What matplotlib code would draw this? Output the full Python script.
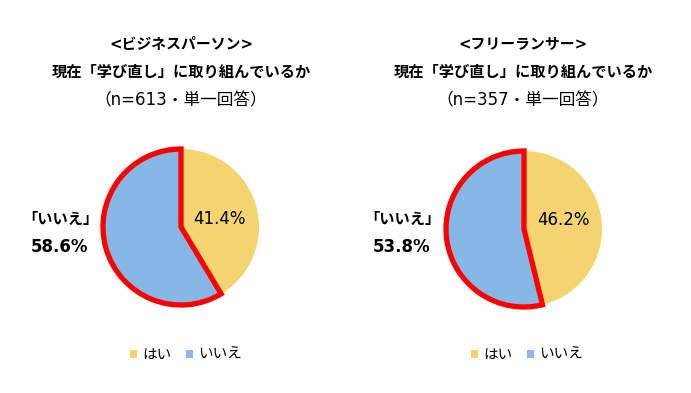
import matplotlib
matplotlib.use("Agg")
import matplotlib.pyplot as plt
from matplotlib.patches import Patch

plt.rcParams['font.family'] = ['Noto Sans CJK JP', 'DejaVu Sans']
LATIN = ['DejaVu Sans', 'Noto Sans CJK JP']

W, H = 691, 393

categories = ["はい", "いいえ"]
business_values = [41.4, 58.6]
freelance_values = [46.2, 53.8]
titles1 = ["<ビジネスパーソン>", "<フリーランサー>"]
title2 = "現在「学び直し」に取り組んでいるか"
subtitles = ["（n=613・単一回答）", "（n=357・単一回答）"]
highlight_label = "「いいえ」"

colors = ["#F4D470", "#85B8E4"]

fig = plt.figure(figsize=(W / 100, H / 100), dpi=100)

def px(x, y):
    return x / W, 1 - y / H

panels = [
    dict(vals=business_values, cx=181, cy=227, r=78, t1=titles1[0], sub=subtitles[0],
         tx=181, lx=60, inlab=(220, 219), legx=130),
    dict(vals=freelance_values, cx=524, cy=229, r=78, t1=titles1[1], sub=subtitles[1],
         tx=523, lx=402, inlab=(564, 220), legx=471),
]

for p in panels:
    r = p["r"]
    ax = fig.add_axes([(p["cx"] - r) / W, (H - p["cy"] - r) / H, 2 * r / W, 2 * r / H])
    wedges, _ = ax.pie(p["vals"], colors=colors, startangle=90, counterclock=False,
                       radius=1, wedgeprops=dict(linewidth=0))
    wedges[1].set_edgecolor("#FF0000")
    wedges[1].set_linewidth(3.8)
    wedges[1].set_joinstyle("miter")
    wedges[1].set_zorder(5)
    ax.set_xlim(-1, 1)
    ax.set_ylim(-1, 1)
    ax.set_aspect("equal")
    ax.axis("off")

    fig.text(*px(p["tx"], 44), p["t1"], ha="center", va="center", fontsize=10.7,
             fontweight="bold", family=LATIN)
    fig.text(*px(p["tx"], 72), title2, ha="center", va="center", fontsize=11,
             fontweight="bold")
    fig.text(*px(p["tx"], 100), p["sub"], ha="center", va="center", fontsize=12,
             family=LATIN)

    fig.text(*px(p["lx"], 219), highlight_label, ha="center", va="center", fontsize=11,
             fontweight="bold")
    fig.text(*px(p["lx"], 247), f"{p['vals'][1]:.1f}%", ha="center", va="center",
             fontsize=12, fontweight="bold", family=LATIN)
    fig.text(*px(*p["inlab"]), f"{p['vals'][0]:.1f}%", ha="center", va="center",
             fontsize=12, family=LATIN)

    handles = [Patch(facecolor=c, edgecolor="none") for c in colors]
    fig.legend(handles, categories, loc="center left",
               bbox_to_anchor=px(p["legx"], 355), ncol=2, frameon=False,
               fontsize=10.5, handlelength=0.45, handleheight=0.45,
               handletextpad=0.4, columnspacing=1.0, borderpad=0, borderaxespad=0)

fig.savefig("out.png", dpi=100)
